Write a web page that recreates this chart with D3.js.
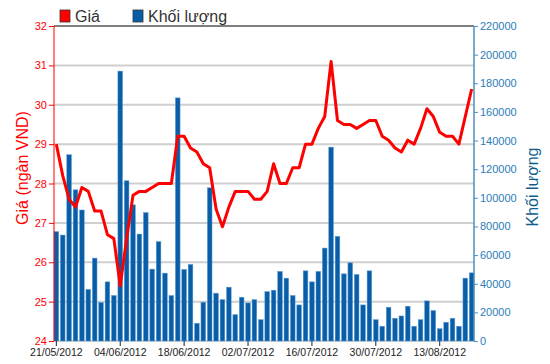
<!DOCTYPE html>
<html>
<head>
<meta charset="utf-8">
<script src="https://cdnjs.cloudflare.com/ajax/libs/d3/7.8.5/d3.min.js"></script>
<style>
  body { margin: 0; background: #fff; }
  svg { display: block; font-family: "Liberation Sans", Arial, sans-serif; }
</style>
</head>
<body>
<script>
// trading days 21/05/2012 -> 20/08/2012
var dates = [
  "21/05/2012","22/05/2012","23/05/2012","24/05/2012","25/05/2012","28/05/2012","29/05/2012","30/05/2012","31/05/2012","01/06/2012",
  "04/06/2012","05/06/2012","06/06/2012","07/06/2012","08/06/2012","11/06/2012","12/06/2012","13/06/2012","14/06/2012","15/06/2012",
  "18/06/2012","19/06/2012","20/06/2012","21/06/2012","22/06/2012","25/06/2012","26/06/2012","27/06/2012","28/06/2012","29/06/2012",
  "02/07/2012","03/07/2012","04/07/2012","05/07/2012","06/07/2012","09/07/2012","10/07/2012","11/07/2012","12/07/2012","13/07/2012",
  "16/07/2012","17/07/2012","18/07/2012","19/07/2012","20/07/2012","23/07/2012","24/07/2012","25/07/2012","26/07/2012","27/07/2012",
  "30/07/2012","31/07/2012","01/08/2012","02/08/2012","03/08/2012","06/08/2012","07/08/2012","08/08/2012","09/08/2012","10/08/2012",
  "13/08/2012","14/08/2012","15/08/2012","16/08/2012","17/08/2012","20/08/2012"
];

// Giá (ngàn VND)
var price = [
  29.0, 28.2, 27.6, 27.4, 27.9, 27.8, 27.3, 27.3, 26.7, 26.6,
  25.4, 26.6, 27.7, 27.8, 27.8, 27.9, 28.0, 28.0, 28.0, 29.2,
  29.2, 28.9, 28.8, 28.5, 28.4, 27.35, 26.9, 27.4, 27.8, 27.8,
  27.8, 27.6, 27.6, 27.8, 28.5, 28.0, 28.0, 28.4, 28.4, 29.0,
  29.0, 29.4, 29.7, 31.1, 29.6, 29.5, 29.5, 29.4, 29.5, 29.6,
  29.6, 29.2, 29.1, 28.9, 28.8, 29.1, 29.0, 29.4, 29.9, 29.7,
  29.3, 29.2, 29.2, 29.0, 29.7, 30.4
];

// Khối lượng
var volume = [
  76400, 74000, 130100, 105600, 91500, 36000, 57900, 26900, 41300, 31800,
  188500, 111900, 95100, 74700, 89700, 50200, 69400, 47400, 31800, 169800,
  50000, 53500, 12400, 27100, 107000, 33400, 28900, 37600, 18400, 30600,
  26600, 28900, 14900, 34500, 35500, 48600, 43900, 31800, 25200, 49000,
  41300, 48600, 64900, 135400, 73100, 46900, 54600, 46500, 25200, 49000,
  14900, 10300, 23600, 15900, 17500, 24300, 10300, 14900, 28000, 21300,
  8600, 13100, 15900, 10300, 43900, 47600
];

var tickDates = ["21/05/2012","04/06/2012","18/06/2012","02/07/2012","16/07/2012","30/07/2012","13/08/2012"];
var priceTicks = [24, 25, 26, 27, 28, 29, 30, 31, 32];
var volTicks = [0, 20000, 40000, 60000, 80000, 100000, 120000, 140000, 160000, 180000, 200000, 220000];

var W = 550, H = 364;
var plotL = 54, plotR = 474, plotT = 26, plotB = 341;

var svg = d3.select("body").append("svg")
    .attr("width", W)
    .attr("height", H);

var x = d3.scaleBand()
    .domain(dates)
    .range([plotL, plotR])
    .paddingInner(0.27)
    .paddingOuter(0);

var yP = d3.scaleLinear().domain([24, 32]).range([plotB, plotT]);
var yV = d3.scaleLinear().domain([0, 220000]).range([plotB, plotT]);

// grid
svg.append("g").attr("class", "grid")
  .selectAll("line")
  .data(priceTicks)
  .enter().append("line")
    .attr("x1", plotL).attr("x2", plotR)
    .attr("y1", function(d) { return yP(d); })
    .attr("y2", function(d) { return yP(d); })
    .attr("stroke", function(d) { return d == 32 ? "#7f7f7f" : "#cfcfcf"; })
    .attr("stroke-width", 2);

// bars
svg.append("g").attr("class", "bars")
  .selectAll("rect")
  .data(volume)
  .enter().append("rect")
    .attr("x", function(d, i) { return x(dates[i]); })
    .attr("y", function(d) { return yV(d); })
    .attr("width", x.bandwidth())
    .attr("height", function(d) { return plotB - yV(d); })
    .attr("fill", "#0a5ea8")
    .attr("stroke", "#5d9fd6")
    .attr("stroke-width", 0.5);

// price line
var line = d3.line()
    .x(function(d, i) { return x(dates[i]) + x.bandwidth() / 2; })
    .y(function(d) { return yP(d); });

svg.append("path")
    .datum(price)
    .attr("d", line)
    .attr("fill", "none")
    .attr("stroke", "#ff0000")
    .attr("stroke-width", 3)
    .attr("stroke-linejoin", "round");

// left axis
var yAxisL = d3.axisLeft(yP).tickValues(priceTicks).tickSize(5).tickPadding(2);
var gL = svg.append("g")
    .attr("transform", "translate(" + plotL + ",0)")
    .call(yAxisL);
gL.select(".domain").attr("stroke", "#ff0000").attr("d", "M0," + plotT + "V" + plotB);
gL.selectAll(".tick line").attr("stroke", "#ff0000");
gL.selectAll(".tick text").attr("fill", "#ff0000").style("font-size", "11px").style("font-family", "Liberation Sans, Arial");

// right axis
var yAxisR = d3.axisRight(yV).tickValues(volTicks).tickFormat(d3.format("d")).tickSize(4).tickPadding(2);
var gR = svg.append("g")
    .attr("transform", "translate(" + plotR + ",0)")
    .call(yAxisR);
gR.select(".domain").attr("stroke", "#4a90c2").attr("stroke-width", 1.5).attr("d", "M0," + plotT + "V" + plotB);
gR.selectAll(".tick line").attr("stroke", "#4a90c2");
gR.selectAll(".tick text").attr("fill", "#2b7cb8").style("font-size", "11px").style("font-family", "Liberation Sans, Arial");

// x axis
var xAxis = d3.axisBottom(x).tickValues(tickDates).tickSize(5).tickPadding(3);
var gX = svg.append("g")
    .attr("transform", "translate(0," + plotB + ")")
    .call(xAxis);
gX.select(".domain").remove();
gX.selectAll(".tick line").attr("stroke", "#222");
gX.selectAll(".tick text").attr("fill", "#222").style("font-size", "10.5px").style("font-family", "Liberation Sans, Arial");

// axis titles
svg.append("text")
    .attr("transform", "translate(28,168) rotate(-90)")
    .attr("text-anchor", "middle")
    .attr("fill", "#ff0000")
    .style("font-size", "16px")
    .text("Giá (ngàn VND)");

svg.append("text")
    .attr("transform", "translate(538,187) rotate(-90)")
    .attr("text-anchor", "middle")
    .attr("fill", "#0d5e8e")
    .style("font-size", "16px")
    .text("Khối lượng");

// legend
var legend = [{name: "Giá", color: "#ff0000", x: 60}, {name: "Khối lượng", color: "#0a5ea8", x: 133}];
var lg = svg.append("g").selectAll("g").data(legend).enter().append("g")
    .attr("transform", function(d) { return "translate(" + d.x + ",10)"; });
lg.append("rect")
    .attr("width", 10).attr("height", 12)
    .attr("fill", function(d) { return d.color; })
    .attr("stroke", "#333").attr("stroke-width", 0.8);
lg.append("text")
    .attr("x", 15).attr("y", 12)
    .attr("fill", "#333")
    .style("font-size", "16px")
    .text(function(d) { return d.name; });
</script>
</body>
</html>
